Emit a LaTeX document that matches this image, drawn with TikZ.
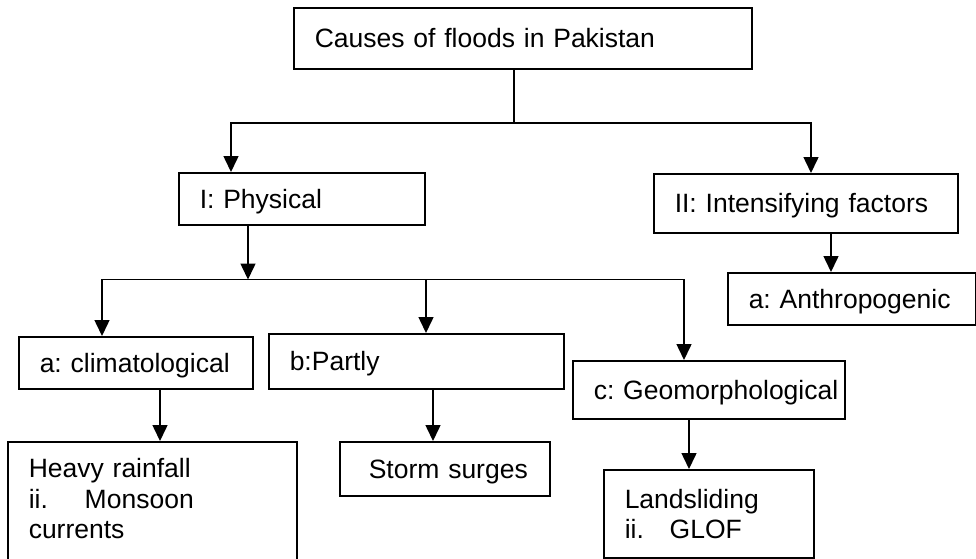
\documentclass[tikz,border=0pt]{standalone}
\usepackage{fontspec}
\setmainfont{Liberation Sans}
\usetikzlibrary{arrows.meta,positioning}
\newcommand{\boxfont}{\fontsize{26.5}{30.5}\selectfont\frenchspacing}
\tikzset{
  box/.style={draw,line width=1.5pt,anchor=north west,inner sep=0pt,align=left,font=\boxfont,
    execute at begin node={\leftskip=21pt\rightskip=0pt plus 1fil\relax}},
  oneline/.style={box,text height=19pt,text depth=0pt},
  link/.style={line width=1.5pt},
  arr/.style={line width=1.5pt,-{Triangle[length=16pt,width=15pt]}}
}

\begin{document}
\begin{tikzpicture}[x=1pt,y=-1pt]
\clip (0,0) rectangle (976,558);
% top
\node[oneline,text width=458pt,minimum height=61pt] (cause) at (293,7) {Causes of floods in Pakistan};
% first level
\node[oneline,text width=246pt,minimum height=52pt] (phys) at (178,172) {I: Physical};
\node[oneline,text width=304pt,minimum height=59pt] (intens) at (653,173) {II: Intensifying factors};
\node[oneline,text width=248pt,minimum height=52pt] (anthro) at (727,272) {a: Anthropogenic};
% second level
\node[oneline,text width=234pt,minimum height=52pt] (clim) at (18,336) {a: climatological};
\node[oneline,text width=295pt,minimum height=55pt] (partly) at (268,333) {b:Partly};
\node[oneline,text width=272pt,minimum height=58pt] (geo) at (572,360) {c: Geomorphological};
% bottom
\node[box,text width=289pt,inner ysep=17pt,text depth=150pt] (heavy) at (7,441)
  {Heavy rainfall\\\makebox[56pt][l]{ii.}Monsoon\\currents};
\node[oneline,text width=210pt,minimum height=54pt,execute at begin node={\leftskip=29pt\relax}] (storm) at (339,441) {Storm surges};
\node[box,text width=210pt,minimum height=88pt,font=\fontsize{26.5}{30}\selectfont] (land) at (603,469)
  {Landsliding\\\makebox[45pt][l]{ii.}GLOF};

% connectors
\coordinate (jt) at (514,123);
\draw[link] (cause.south -| jt) -- (jt);
\draw[arr] (jt) -| ([xshift=53pt]phys.north west);
\draw[arr] (jt) -| ([xshift=158pt]intens.north west);
\coordinate (ia) at ([xshift=178pt]intens.south west);
\draw[arr] (ia) -- (ia |- anthro.north);

\draw[arr] ([xshift=70pt]phys.south west) -- ++(0,54) coordinate (jp);
\draw[arr] (jp) -| ([xshift=84pt]clim.north west);
\draw[arr] (jp) -| ([xshift=112pt]geo.north west);
\coordinate (pm) at ([xshift=158pt]partly.north west);
\draw[arr] (pm |- jp) -- (pm);

\coordinate (ch) at ([xshift=142pt]clim.south west);
\draw[arr] (ch) -- (ch |- heavy.north);
\coordinate (ps) at ([xshift=165pt]partly.south west);
\draw[arr] (ps) -- (ps |- storm.north);
\coordinate (gl) at ([xshift=117pt]geo.south west);
\draw[arr] (gl) -- (gl |- land.north);
\end{tikzpicture}
\end{document}
